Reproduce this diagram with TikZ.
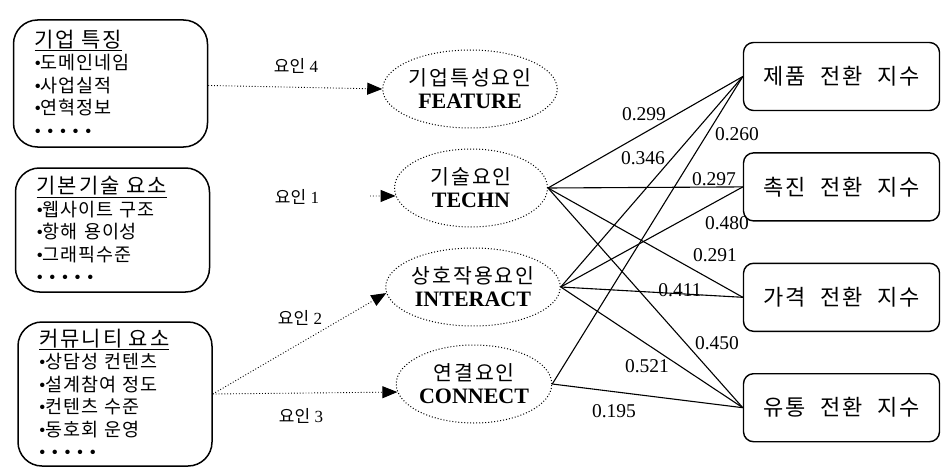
\documentclass[tikz,border=0pt]{standalone}
\usepackage{fontspec}
\setmainfont{Liberation Serif}
\newfontfamily\kor[WordSpace=3, LetterSpace=5]{Noto Sans CJK KR}
\newfontfamily\korsp[WordSpace=2, LetterSpace=10]{Noto Sans CJK KR}
\newfontfamily\korpl{Noto Sans CJK KR}
\usetikzlibrary{shapes.geometric, arrows.meta, positioning}
\newcommand{\blt}{{\rmfamily\textbullet}}
\newcommand{\dotrow}{{\rmfamily • • • • •}}
\newcommand{\boxtitle}[1]{{\korsp\fontsize{21}{22.5}\selectfont\underline{#1}}}

\begin{document}
\begin{tikzpicture}[x=1pt, y=-1pt,
            srcbox/.style={draw, line width=1.5pt, rounded corners=24pt, text width=152pt, inner xsep=21pt, align=left, font=\kor\fontsize{18.5}{22.5}\selectfont},
            factor/.style={ellipse, draw, dotted, line width=1pt, minimum width=153pt, minimum height=78pt, inner sep=0pt, align=center, font=\fontsize{20.5}{23}\selectfont},
            idxbox/.style={draw, line width=1.4pt, rounded corners=10pt, minimum width=196pt, minimum height=68pt, font=\korsp\fontsize{22}{24}\selectfont},
            dotarr/.style={-{Triangle[length=15pt, width=12pt]}, dotted, line width=0.9pt},
            load/.style={line width=1.1pt},
            num/.style={font=\fontsize{19.5}{20}\selectfont, inner sep=1pt},
            fac/.style={font=\fontsize{17}{18}\selectfont, inner sep=1pt}
        ]
            \useasboundingbox (0,0) rectangle (941,468);

            % source boxes
            \node[srcbox, minimum height=127pt] (firm) at (110.5,83.5) {\boxtitle{기업 특징}\\\blt 도메인네임\\\blt 사업실적\\\blt 연혁정보\\\dotrow};
            \node[srcbox, minimum height=124pt] (basic) at (112.5,230) {\boxtitle{기본기술 요소}\\\blt 웹사이트 구조\\\blt 항해 용이성\\\blt 그래픽수준\\\dotrow};
            \node[srcbox, minimum height=144pt] (comm) at (115,394) {\boxtitle{커뮤니티 요소}\\\blt 상담성 컨텐츠\\\blt 설계참여 정도\\\blt 컨텐츠 수준\\\blt 동호회 운영\\\dotrow};

            % factors
            \node[factor] (feat) at (470,89) {{\korsp 기업특성요인}\\{\bfseries\fontsize{22}{23}\selectfont FEATURE}};
            \node[factor] (techn) at (471,188) {{\korsp 기술요인}\\{\bfseries\fontsize{22}{23}\selectfont TECHN}};
            \node[factor] (interact) at (473,287) {{\korsp 상호작용요인}\\{\bfseries\fontsize{22}{23}\selectfont INTERACT}};
            \node[factor] (connect) at (474,384) {{\korsp 연결요인}\\{\bfseries\fontsize{22}{23}\selectfont CONNECT}};

            % conversion indices
            \node[idxbox] (prod) at (841.5,76.5) {제품 전환 지수};
            \node[idxbox, below=41pt of prod] (promo) {촉진 전환 지수};
            \node[idxbox, below=41pt of promo] (price) {가격 전환 지수};
            \node[idxbox, below=41pt of price] (dist) {유통 전환 지수};

            % factor arrows
            \coordinate (f1) at (370,196);
            \draw[dotarr] (firm) -- (feat.west);
            \draw[dotarr] (f1) -- (techn.186);
            \draw[dotarr] (comm.east) -- (interact.184);
            \draw[dotarr] (comm.east) -- (connect.186);
            \node[fac] at (296,66) {{\korpl 요인} 4};
            \node[fac] at (297,197) {{\korpl 요인} 1};
            \node[fac] at (300,318) {{\korpl 요인} 2};
            \node[fac] at (301,416) {{\korpl 요인} 3};

            % loadings
            \draw[load] (techn.east) -- (prod.west);
            \draw[load] (techn.east) -- (promo.west);
            \draw[load] (techn.east) -- (price.west);
            \draw[load] (techn.east) -- (dist.west);
            \draw[load] (interact.east) -- (prod.west);
            \draw[load] (interact.east) -- (promo.west);
            \draw[load] (interact.east) -- (price.west);
            \draw[load] (interact.east) -- (dist.west);
            \draw[load] (connect.east) -- (prod.west);
            \draw[load] (connect.east) -- (dist.west);

            \node[num] at (644,114) {0.299};
            \node[num] at (737,134) {0.260};
            \node[num] at (643,158) {0.346};
            \node[num] at (714,179) {0.297};
            \node[num] at (727,223) {0.480};
            \node[num] at (715,255) {0.291};
            \node[num] at (680,290) {0.411};
            \node[num] at (717,343) {0.450};
            \node[num] at (647,366) {0.521};
            \node[num] at (614,411) {0.195};
        \end{tikzpicture}
\end{document}
